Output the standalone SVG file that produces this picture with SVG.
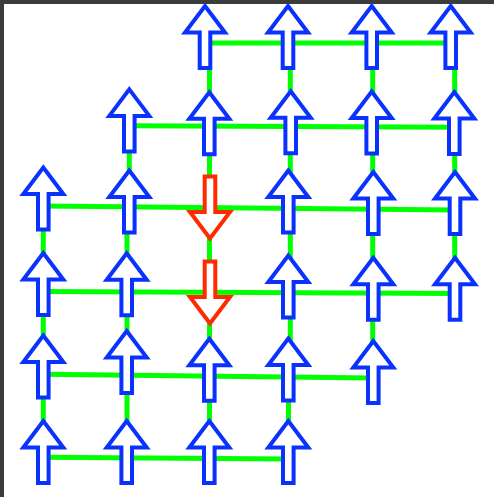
<svg xmlns="http://www.w3.org/2000/svg" xmlns:xlink="http://www.w3.org/1999/xlink" width="494" height="497" viewBox="0 0 494 497">
<style>
.frame{fill:#3c3c3c}
.c line{stroke:#00ff00;stroke-width:5;stroke-linecap:butt}
.up{fill:#ffffff;stroke:#0a32ff;stroke-width:4;stroke-linejoin:miter;stroke-miterlimit:10}
.dn{fill:#ffffff;stroke:#ff2a00;stroke-width:4;stroke-linejoin:miter;stroke-miterlimit:10}
</style>
<defs>
<path id="arr" d="M0,0 L20,26.5 L5.3,26.5 L5.3,62 L-5.3,62 L-5.3,26.5 L-20,26.5 Z"/>
</defs>
<rect width="494" height="497" fill="#ffffff"/>
<rect class="frame" x="0" y="0" width="494" height="4"/>
<rect class="frame" x="0" y="0" width="4" height="497"/>
<g id="connectors" class="c">
<line x1="205" y1="43" x2="450.7" y2="43"/>
<line x1="129.3" y1="125.7" x2="454.3" y2="127.3"/>
<line x1="43.3" y1="206" x2="455" y2="210"/>
<line x1="43.3" y1="291.5" x2="455" y2="293.5"/>
<line x1="43.3" y1="374.3" x2="373.3" y2="378"/>
<line x1="43.3" y1="457.3" x2="288.3" y2="459"/>
<line x1="43.3" y1="206" x2="43.3" y2="458"/>
<line x1="129.3" y1="126" x2="129.3" y2="208"/>
<line x1="127" y1="208" x2="127" y2="458"/>
<line x1="209.5" y1="43" x2="209.5" y2="458"/>
<line x1="290.3" y1="43" x2="290.3" y2="376"/>
<line x1="288.5" y1="376" x2="288.5" y2="458"/>
<line x1="372.7" y1="43" x2="372.7" y2="377"/>
<line x1="454.7" y1="43" x2="454.7" y2="293"/>
</g>
<g id="r1c3"><use xlink:href="#arr" class="up" transform="translate(205,6)"/></g>
<g id="r1c4"><use xlink:href="#arr" class="up" transform="translate(288,6)"/></g>
<g id="r1c5"><use xlink:href="#arr" class="up" transform="translate(371.7,6)"/></g>
<g id="r1c6"><use xlink:href="#arr" class="up" transform="translate(450.7,6)"/></g>
<g id="r2c2"><use xlink:href="#arr" class="up" transform="translate(129.3,89.4)"/></g>
<g id="r2c3"><use xlink:href="#arr" class="up" transform="translate(209.3,92.3)"/></g>
<g id="r2c4"><use xlink:href="#arr" class="up" transform="translate(290.7,91.3)"/></g>
<g id="r2c5"><use xlink:href="#arr" class="up" transform="translate(371.7,91.5)"/></g>
<g id="r2c6"><use xlink:href="#arr" class="up" transform="translate(454.3,92)"/></g>
<g id="r3c1"><use xlink:href="#arr" class="up" transform="translate(43.3,167.5)"/></g>
<g id="r3c2"><use xlink:href="#arr" class="up" transform="translate(129.3,170.5)"/></g>
<g id="r3c3"><use xlink:href="#arr" class="dn" transform="translate(210,238.5) rotate(180)"/></g>
<g id="r3c4"><use xlink:href="#arr" class="up" transform="translate(288.3,170.5)"/></g>
<g id="r3c5"><use xlink:href="#arr" class="up" transform="translate(373.3,172)"/></g>
<g id="r3c6"><use xlink:href="#arr" class="up" transform="translate(455,172)"/></g>
<g id="r4c1"><use xlink:href="#arr" class="up" transform="translate(43.3,253)"/></g>
<g id="r4c2"><use xlink:href="#arr" class="up" transform="translate(126.7,253.3)"/></g>
<g id="r4c3"><use xlink:href="#arr" class="dn" transform="translate(210,323.5) rotate(180)"/></g>
<g id="r4c4"><use xlink:href="#arr" class="up" transform="translate(288.3,255.5)"/></g>
<g id="r4c5"><use xlink:href="#arr" class="up" transform="translate(373.3,257.7)"/></g>
<g id="r4c6"><use xlink:href="#arr" class="up" transform="translate(455,257.7)"/></g>
<g id="r5c1"><use xlink:href="#arr" class="up" transform="translate(43.3,335.5)"/></g>
<g id="r5c2"><use xlink:href="#arr" class="up" transform="translate(126.7,331)"/></g>
<g id="r5c3"><use xlink:href="#arr" class="up" transform="translate(209.3,338.7)"/></g>
<g id="r5c4"><use xlink:href="#arr" class="up" transform="translate(288.3,338.5)"/></g>
<g id="r5c5"><use xlink:href="#arr" class="up" transform="translate(373.3,341)"/></g>
<g id="r6c1"><use xlink:href="#arr" class="up" transform="translate(43.3,421)"/></g>
<g id="r6c2"><use xlink:href="#arr" class="up" transform="translate(126.7,421)"/></g>
<g id="r6c3"><use xlink:href="#arr" class="up" transform="translate(209.3,421)"/></g>
<g id="r6c4"><use xlink:href="#arr" class="up" transform="translate(288.3,421)"/></g>
</svg>
